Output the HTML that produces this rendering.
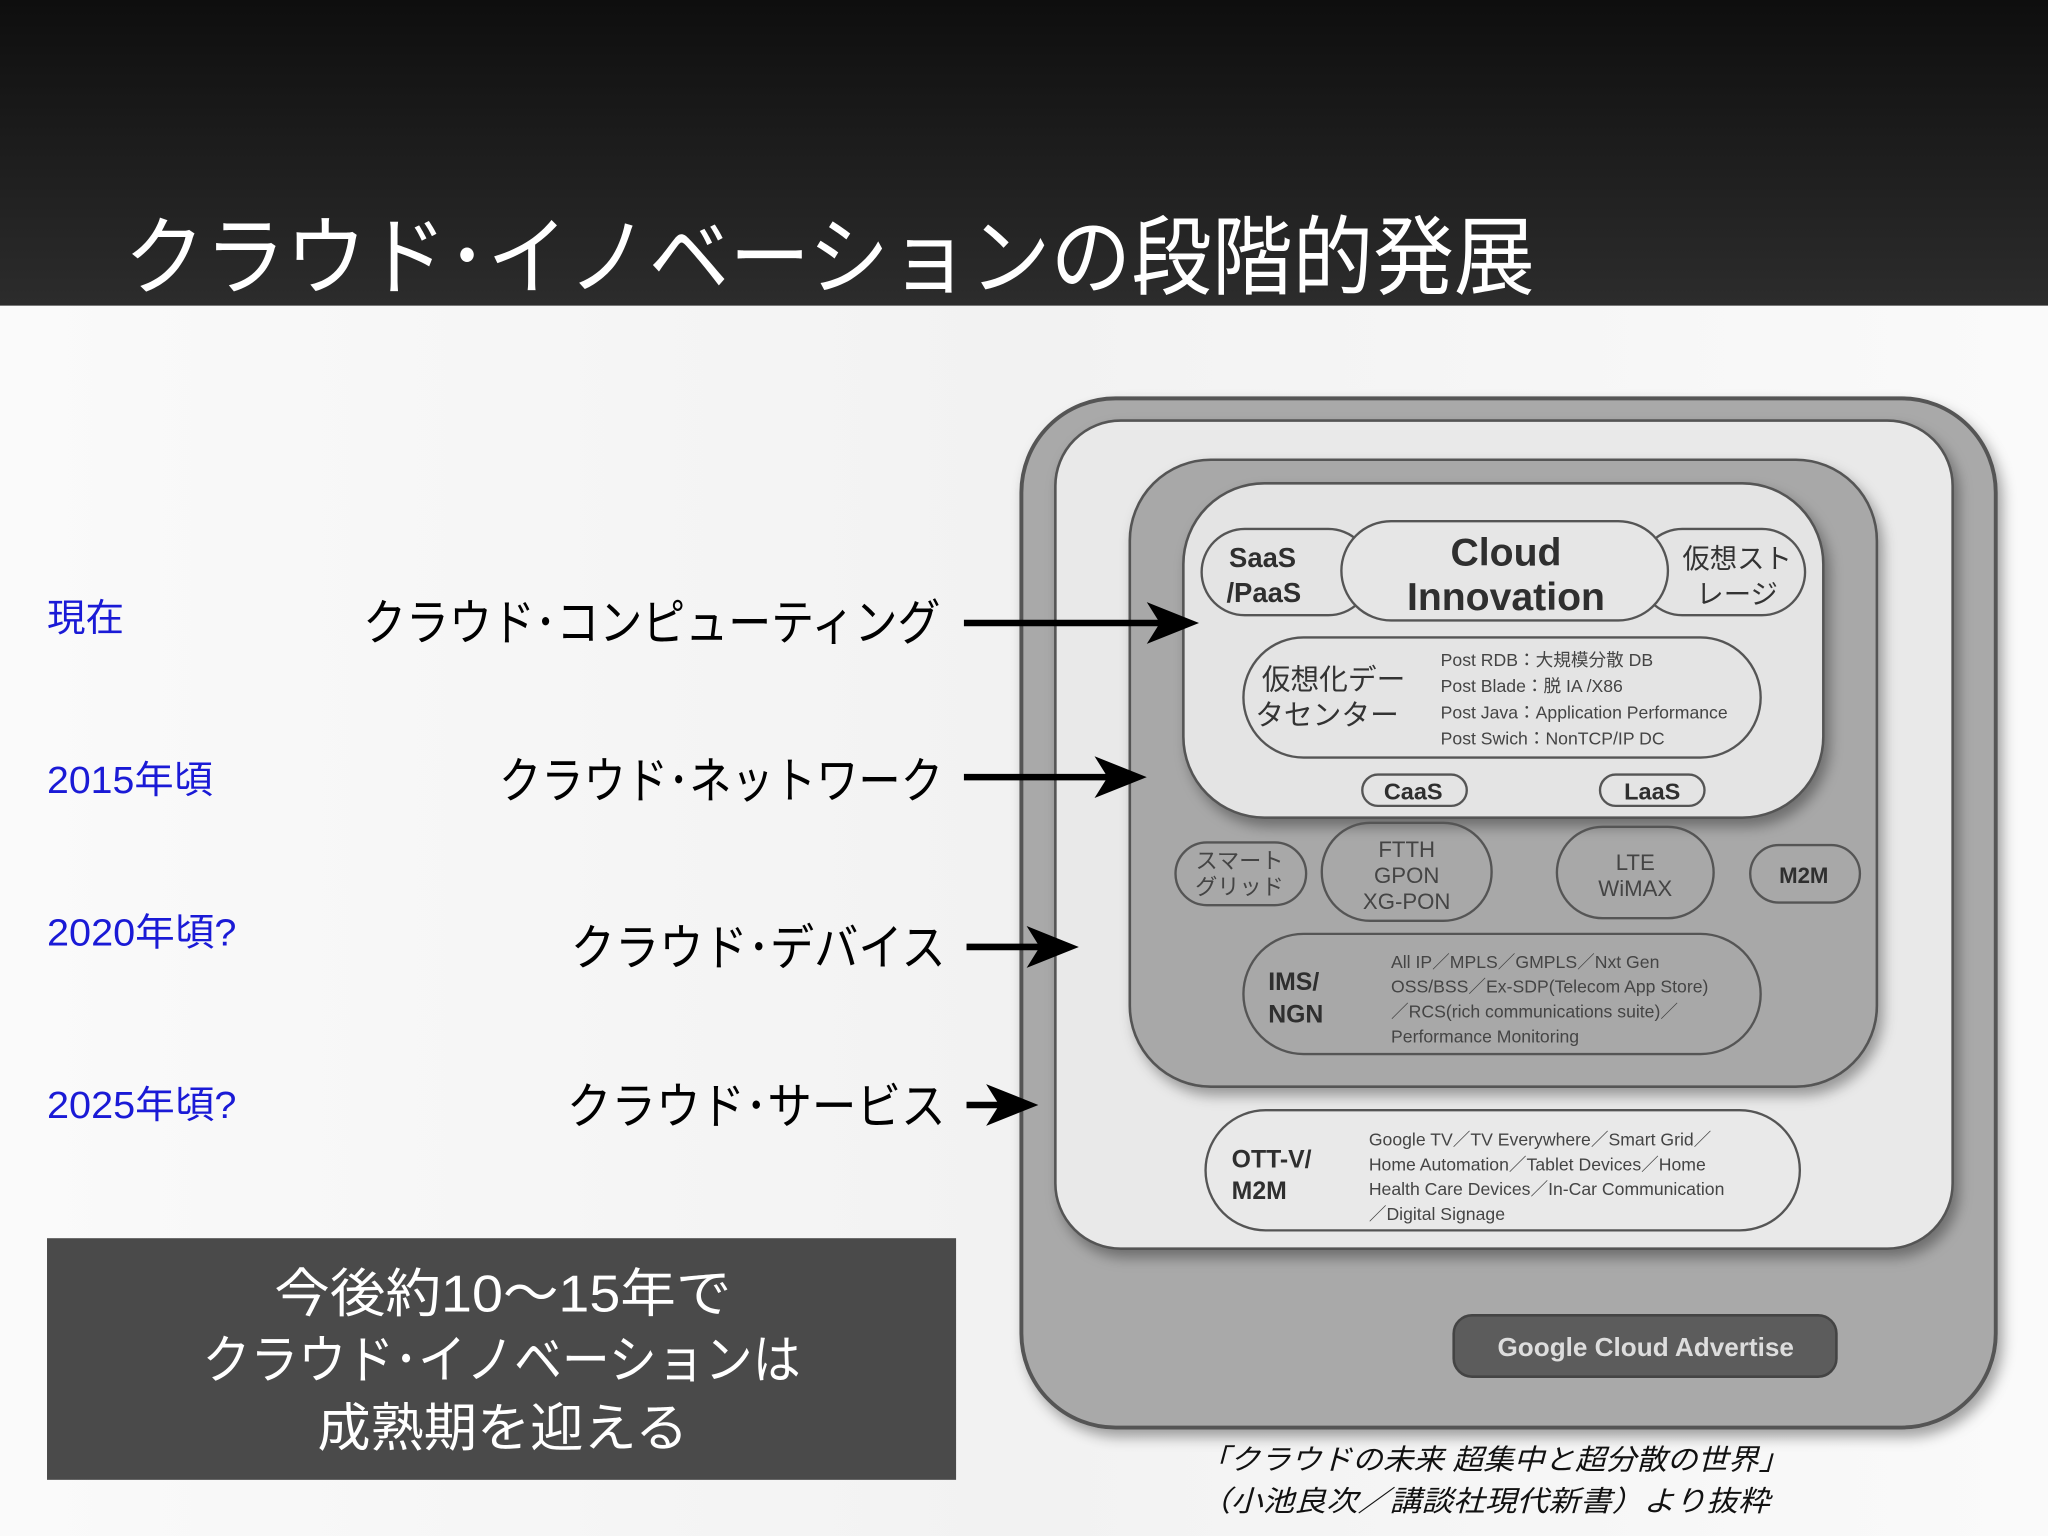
<!DOCTYPE html>
<html><head><meta charset="utf-8"><style>
html,body{margin:0;padding:0;width:2048px;height:1536px;overflow:hidden;background:#fafafa}
svg{display:block}
text{font-family:"Liberation Sans","Noto Sans CJK JP",sans-serif}
</style></head><body>
<svg width="2048" height="1536" viewBox="0 0 1568 1176" xmlns="http://www.w3.org/2000/svg">
<defs>
<linearGradient id="hd" x1="0" y1="0" x2="0" y2="1"><stop offset="0" stop-color="#0e0e0e"/><stop offset="1" stop-color="#2c2c2c"/></linearGradient>
<linearGradient id="bg" x1="0" y1="0" x2="1" y2="0"><stop offset="0" stop-color="#fafafa"/><stop offset="0.5" stop-color="#f2f2f2"/><stop offset="1" stop-color="#fafafa"/></linearGradient>
<filter id="sh" x="-10%" y="-10%" width="120%" height="120%"><feDropShadow dx="4" dy="6" stdDeviation="5" flood-color="#000" flood-opacity="0.35"/></filter>
</defs>
<rect x="0" y="234" width="1568" height="942" fill="url(#bg)"/>
<rect x="0" y="0" width="1568" height="234" fill="url(#hd)"/>
<text x="95" y="220" font-size="66" fill="#fff" textLength="1080" lengthAdjust="spacingAndGlyphs">クラウド･イノベーションの段階的発展</text>

<g fill="#1a1ad6" font-size="29">
<text x="36" y="483" textLength="59" lengthAdjust="spacingAndGlyphs">現在</text>
<text x="36" y="607" textLength="127" lengthAdjust="spacingAndGlyphs">2015年頃</text>
<text x="36" y="724" textLength="145" lengthAdjust="spacingAndGlyphs">2020年頃?</text>
<text x="36" y="856" textLength="145" lengthAdjust="spacingAndGlyphs">2025年頃?</text>
</g>
<g fill="#000" font-size="38">
<text x="278" y="490" textLength="442" lengthAdjust="spacingAndGlyphs">クラウド･コンピューティング</text>
<text x="382" y="611" textLength="340" lengthAdjust="spacingAndGlyphs">クラウド･ネットワーク</text>
<text x="437" y="739" textLength="287" lengthAdjust="spacingAndGlyphs">クラウド･デバイス</text>
<text x="434" y="860" textLength="290" lengthAdjust="spacingAndGlyphs">クラウド･サービス</text>
</g>

<rect x="36" y="948" width="696" height="185" fill="#4a4a4a"/>
<g fill="#fff" font-size="40">
<text x="210" y="1004" textLength="350" lengthAdjust="spacingAndGlyphs">今後約10～15年で</text>
<text x="155" y="1055" textLength="458" lengthAdjust="spacingAndGlyphs">クラウド･イノベーションは</text>
<text x="243" y="1107" textLength="284" lengthAdjust="spacingAndGlyphs">成熟期を迎える</text>
</g>

<!-- diagram -->
<rect x="782" y="305" width="746" height="788" rx="72" fill="#a9a9a9" stroke="#555" stroke-width="3" filter="url(#sh)"/>
<rect x="808" y="322" width="687" height="634" rx="50" fill="#e9e9e9" stroke="#555" stroke-width="2" filter="url(#sh)"/>
<rect x="865" y="352" width="572" height="480" rx="62" fill="#a8a8a8" stroke="#555" stroke-width="2" filter="url(#sh)"/>
<rect x="906" y="370" width="490" height="256" rx="62" fill="#e4e4e4" stroke="#555" stroke-width="2" filter="url(#sh)"/>
<g fill="none" stroke="#555" stroke-width="1.8">
<rect x="920" y="405" width="130" height="66" rx="33" fill="#e4e4e4"/>
<rect x="1255" y="405" width="127" height="66" rx="33" fill="#e4e4e4"/>
<rect x="1027" y="399" width="250" height="76" rx="38" fill="#e6e6e6"/>
<rect x="952" y="488" width="396" height="92" rx="46"/>
<rect x="1043" y="593" width="80" height="24" rx="12"/>
<rect x="1225" y="593" width="80" height="24" rx="12"/>
<rect x="900" y="645" width="100" height="48" rx="24"/>
<rect x="1012" y="630" width="130" height="75" rx="37"/>
<rect x="1192" y="633" width="120" height="70" rx="35"/>
<rect x="1340" y="647" width="84" height="44" rx="22"/>
<rect x="952" y="715" width="396" height="92" rx="46"/>
<rect x="923" y="850" width="455" height="92" rx="46"/>
</g>
<g fill="#2f2f2f" font-weight="bold">
<text x="941" y="434" font-size="21">SaaS</text>
<text x="939" y="461" font-size="21">/PaaS</text>
<text x="1153" y="433" font-size="30" text-anchor="middle">Cloud</text>
<text x="1153" y="467" font-size="30" text-anchor="middle">Innovation</text>
<text x="1082" y="612" font-size="18" text-anchor="middle">CaaS</text>
<text x="1265" y="612" font-size="18" text-anchor="middle">LaaS</text>
<text x="1381" y="676" font-size="17" text-anchor="middle">M2M</text>
<text x="971" y="758" font-size="19">IMS/</text>
<text x="971" y="783" font-size="19">NGN</text>
<text x="943" y="894" font-size="19">OTT-V/</text>
<text x="943" y="918" font-size="19">M2M</text>
</g>
<g fill="#333" font-size="21" text-anchor="middle">
<text x="1330" y="435">仮想スト</text>
<text x="1330" y="462">レージ</text>
<text x="1021" y="528" font-size="22">仮想化デー</text>
<text x="1016" y="555" font-size="22">タセンター</text>
</g>
<g fill="#444" font-size="17" text-anchor="middle">
<text x="949" y="665">スマート</text>
<text x="949" y="685">グリッド</text>
<text x="1077" y="656">FTTH</text>
<text x="1077" y="676">GPON</text>
<text x="1077" y="696">XG-PON</text>
<text x="1252" y="666">LTE</text>
<text x="1252" y="686">WiMAX</text>
</g>
<g fill="#444" font-size="13.5">
<text x="1103" y="510">Post RDB：大規模分散 DB</text>
<text x="1103" y="530">Post Blade：脱 IA /X86</text>
<text x="1103" y="550">Post Java：Application Performance</text>
<text x="1103" y="570">Post Swich：NonTCP/IP DC</text>
<text x="1065" y="741">All IP／MPLS／GMPLS／Nxt Gen</text>
<text x="1065" y="760">OSS/BSS／Ex-SDP(Telecom App Store)</text>
<text x="1065" y="779">／RCS(rich communications suite)／</text>
<text x="1065" y="798">Performance Monitoring</text>
<text x="1048" y="877">Google TV／TV Everywhere／Smart Grid／</text>
<text x="1048" y="896">Home Automation／Tablet Devices／Home</text>
<text x="1048" y="915">Health Care Devices／In-Car Communication</text>
<text x="1048" y="934">／Digital Signage</text>
</g>
<rect x="1113" y="1007" width="293" height="47" rx="14" fill="#5c5c5c" stroke="#444" stroke-width="2"/>
<text x="1260" y="1038" font-size="20" font-weight="bold" fill="#ddd" text-anchor="middle">Google Cloud Advertise</text>
<g fill="#111" font-size="22" font-style="italic">
<text x="918" y="1125" textLength="452" lengthAdjust="spacingAndGlyphs">「クラウドの未来 超集中と超分散の世界」</text>
<text x="918" y="1157" textLength="437" lengthAdjust="spacingAndGlyphs">（小池良次／講談社現代新書）より抜粋</text>
</g>

<g stroke="#000" stroke-width="5" fill="#000">
<line x1="738" y1="477" x2="900" y2="477"/><polygon points="918,477 878,461 888,477 878,493" stroke="none"/>
<line x1="738" y1="595" x2="860" y2="595"/><polygon points="878,595 838,579 848,595 838,611" stroke="none"/>
<line x1="740" y1="725" x2="808" y2="725"/><polygon points="826,725 786,709 796,725 786,741" stroke="none"/>
<line x1="740" y1="846" x2="777" y2="846"/><polygon points="795,846 755,830 765,846 755,862" stroke="none"/>
</g>
</svg>
</body></html>
